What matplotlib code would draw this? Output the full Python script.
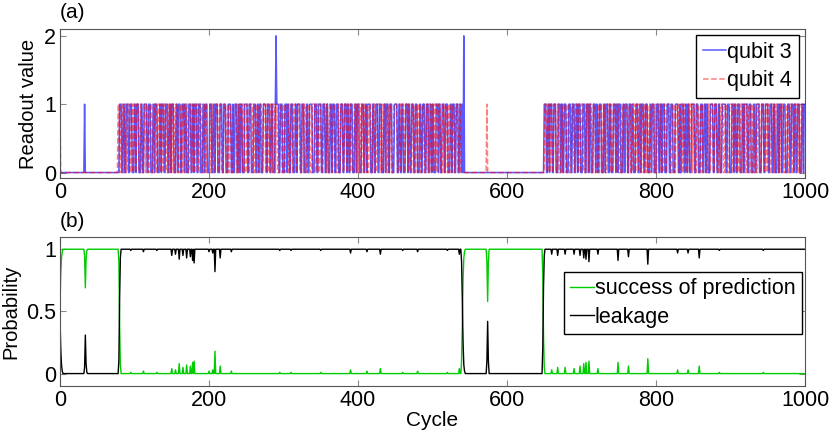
import numpy as np
import matplotlib
matplotlib.use('Agg')
import matplotlib.pyplot as plt

plt.rcParams['font.family'] = ['Liberation Sans', 'DejaVu Sans']

# readout values per cycle, 50 cycles per row, groups of 10
q3_rows = [
    "0000000000 0000000000 0000000000 0001000000 0000000000",
    "0000000000 0000000000 0000000000 1110011001 1100111000",
    "1101110001 1001111001 1100011011 1000110111 0011100110",
    "1110001101 1100111011 0001110011 0111001110 0011011100",
    "0111001101 1100011100 1110001111 0010011100 1101100011",
    "1100111000 1110011011 0001111001 1100110001 2111001110",
    "0011101100 1110001101 1110011100 0110011110 0011100111",
    "1001110011 0001101110 0111000111 0011101100 1110001101",
    "1100011100 1101111000 1100111001 1100011011 1001110001",
    "1110011001 1000111011 0011100111 0001100111 0011100110",
    "1100011101 1001110011 1000110111 0011100110 1020000000",
    "0000000000 0000000000 0000000000 0000000000 0000000000",
    "0000000000 0000000000 0000000000 0000000000 0000000000",
    "1110011011 1001110001 1101100111 0001110011 1001101110",
    "0011100111 0110001110 1100111000 1101110011 0001110110",
    "1110001101 1100111011 0001110011 0111001110 0011011100",
    "0111001101 1100011100 1110001111 0010011100 1101100011",
    "1100111000 1110011011 0001111001 1100110001 1111001110",
    "0011101100 1110001101 1110011100 0110011110 0011100111",
    "1001110011 0001101110 0111000111 0011101100 1110001101",
]
q4_rows = [
    "1000000000 0000000000 0000000000 0000000000 0000000000",
    "0000000000 0000000000 0000000011 0011100110 0111001101",
    "1001110011 0001101110 0111000111 0011101100 1110001101",
    "0111001110 0011011100 1100011101 1001110011 1000110111",
    "1100110001 1100111000 1110011011 0001111001 0011101100",
    "0110011110 0011100111 1001110011 0001101110 1100011100",
    "1101111000 1100111001 1100011011 1001110001 1110011001",
    "1000111011 0011100111 0001100111 0011100110 1100011101",
    "0111001101 1100011100 1110001111 0010011100 1101100011",
    "1110001101 1100111011 0001110011 0111001110 0011011100",
    "1001110011 1000110111 0011100110 0111001100 0000000000",
    "0000000000 0000000000 0001000000 0000000000 0000000000",
    "0000000000 0000000000 0000000000 0000000000 0000000000",
    "0111001101 1001110011 0001101110 0111000111 0011101100",
    "1110001101 0111001110 0011011100 1100011101 1001110011",
    "1000110111 1100110001 1100111000 1110011011 0001111001",
    "0011101100 0110011110 0011100111 1001110011 0001101110",
    "1100011100 1101111000 1100111001 1100011011 1001110001",
    "1110011001 1000111011 0011100111 0001100111 0011100110",
    "1100011101 0111001101 1100011100 1110001111 0010011100",
]

# probability panel: plateaus, transition points and small spikes
leak_on = [(82, 538), (651, 999)]
leak_edge_x = [0, 1, 2, 3, 33, 34, 35, 36, 79, 80, 81, 539, 540, 541, 542, 543, 573, 574, 575, 648, 649, 650]
leak_edge_y = [0.45, 0.2, 0.07, 0.02, 0.05, 0.31, 0.08, 0.01, 0.1, 0.6, 0.93, 0.9, 0.6, 0.25, 0.07, 0.02, 0.1, 0.42, 0.1, 0.2, 0.7, 0.95]
succ_on = [(4, 32), (37, 78), (544, 572), (576, 647)]
succ_edge_x = [0, 1, 2, 3, 33, 34, 35, 36, 79, 80, 81, 539, 540, 541, 542, 543, 573, 574, 575, 648, 649, 650]
succ_edge_y = [0.55, 0.8, 0.93, 0.98, 0.95, 0.69, 0.92, 0.99, 0.9, 0.4, 0.07, 0.1, 0.4, 0.75, 0.93, 0.98, 0.9, 0.58, 0.9, 0.8, 0.3, 0.05]

spike_x = [95, 112, 130, 150, 155, 160, 165, 170, 175, 178,
           180, 200, 205, 208, 215, 230, 295, 310, 350, 390,
           412, 430, 460, 480, 520, 536,
           660, 668, 678, 690, 698, 703, 706, 710, 722, 749,
           763, 789, 829, 843, 858, 885, 944]
leak_dip = [0.99, 0.98, 0.99, 0.95, 0.96, 0.92, 0.95, 0.93, 0.94, 0.91,
            0.89, 0.98, 0.97, 0.82, 0.93, 0.98, 0.99, 0.99, 0.99, 0.97,
            0.98, 0.96, 0.99, 0.98, 0.99, 0.96,
            0.96, 0.95, 0.96, 0.96, 0.95, 0.93, 0.92, 0.9, 0.96, 0.91,
            0.94, 0.88, 0.97, 0.97, 0.93, 0.99, 0.99]
succ_peak = [0.01, 0.02, 0.01, 0.04, 0.03, 0.08, 0.05, 0.07, 0.06, 0.09,
             0.1, 0.02, 0.03, 0.18, 0.06, 0.02, 0.01, 0.01, 0.01, 0.03,
             0.02, 0.04, 0.01, 0.02, 0.01, 0.04,
             0.03, 0.05, 0.05, 0.04, 0.06, 0.08, 0.09, 0.1, 0.04, 0.09,
             0.06, 0.12, 0.03, 0.03, 0.06, 0.01, 0.01]

def decode(rows):
    s = "".join(r.replace(" ", "") for r in rows)
    return np.array([int(c) for c in s])

def build(on, ex, ey, sx, sy):
    v = np.zeros(1000)
    for a, b in on:
        v[a:b + 1] = 1.0
    v[ex] = ey
    v[sx] = sy
    return v

cycles = np.arange(1000)
q3 = decode(q3_rows)
q4 = decode(q4_rows)
leak = build(leak_on, leak_edge_x, leak_edge_y, spike_x, leak_dip)
succ = build(succ_on, succ_edge_x, succ_edge_y, spike_x, succ_peak)

fig = plt.figure(figsize=(8.3, 4.3), dpi=100)
ax1 = fig.add_axes([0.0723, 0.586, 0.8976, 0.3465])
ax2 = fig.add_axes([0.0723, 0.1023, 0.8976, 0.347])

ax1.plot(cycles, q3, color='blue', lw=1.1, alpha=0.65, label='qubit 3')
ax1.plot(cycles, q4, color='red', lw=1.1, ls='--', alpha=0.5, label='qubit 4')
ax1.set_xlim(0, 1000)
ax1.set_ylim(-0.08, 2.1)
ax1.set_yticks([0, 1, 2])
ax1.set_ylabel('Readout value', fontsize=14.5)
ax1.legend(loc='upper right', fontsize=15.5, fancybox=False, edgecolor='black',
           handlelength=1.1, handletextpad=0.05, borderpad=0.3, labelspacing=0.35,
           framealpha=1, borderaxespad=0.3)

ax2.plot(cycles, succ, color='#00cc00', lw=1, label='success of prediction')
ax2.plot(cycles, leak, color='black', lw=1, label='leakage')
ax2.set_xlim(0, 1000)
ax2.set_ylim(-0.1, 1.1)
ax2.set_yticks([0, 0.5, 1])
ax2.set_yticklabels(['0', '0.5', '1'])
ax2.set_ylabel('Probability', fontsize=14.5)
ax2.set_xlabel('Cycle', fontsize=15, labelpad=0)
ax2.legend(loc='center right', fontsize=15.5, fancybox=False, edgecolor='black',
           handlelength=1.1, handletextpad=0.05, borderpad=0.3, labelspacing=0.35,
           framealpha=1, bbox_to_anchor=(0.996, 0.556), borderaxespad=0)

for ax in (ax1, ax2):
    ax.set_xticks([0, 200, 400, 600, 800, 1000])
    ax.tick_params(direction='in', top=True, right=True, labelsize=15.5,
                   color='#888888', length=4, pad=3)
    for sp in ax.spines.values():
        sp.set_color('#555555')

fig.text(0.0723, 0.97, '(a)', fontsize=15, va='center', ha='left')
fig.text(0.0723, 0.485, '(b)', fontsize=15, va='center', ha='left')

fig.savefig('out.png', dpi=100)
